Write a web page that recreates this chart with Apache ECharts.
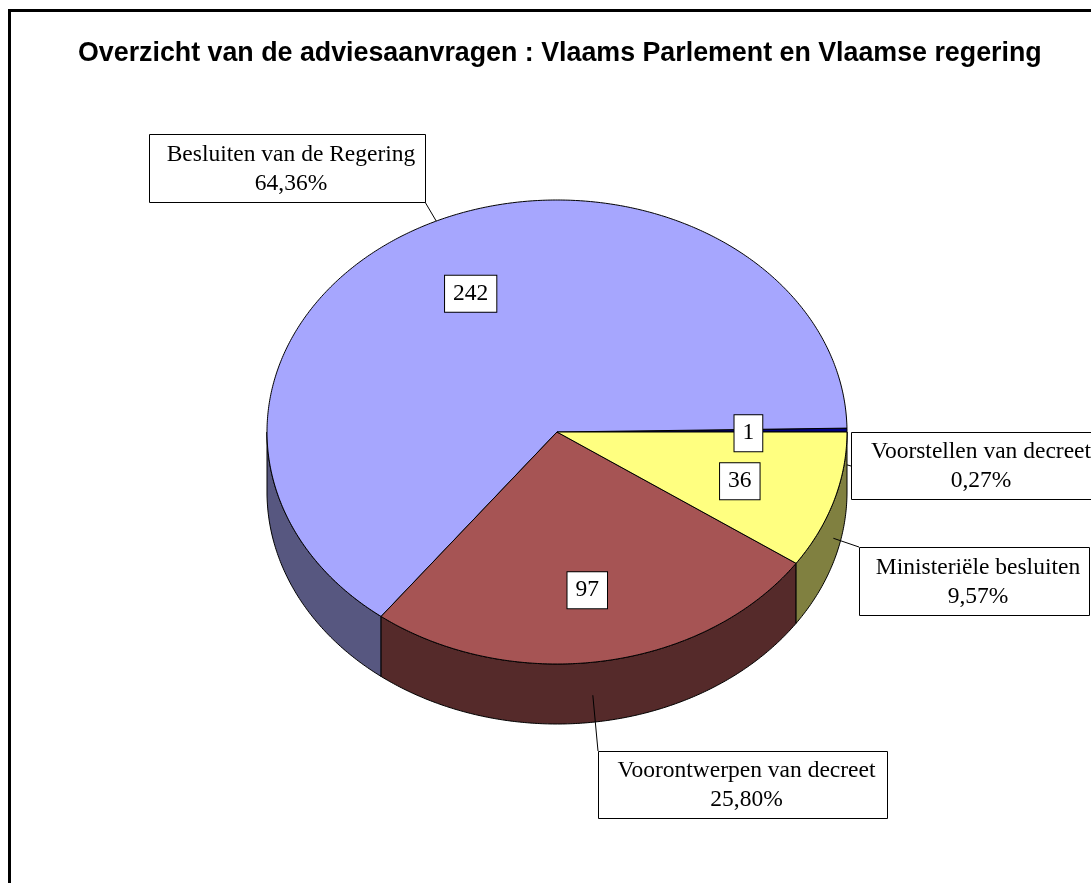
<!DOCTYPE html>
<html><head><meta charset="utf-8">
<script src="https://cdn.jsdelivr.net/npm/echarts/dist/echarts.min.js"></script>
<style>html,body{margin:0;padding:0;background:#fff}#c{width:1091px;height:883px}</style>
</head><body><div id="c"></div>
<script>
const titleText = 'Overzicht van de adviesaanvragen : Vlaams Parlement en Vlaamse regering';
const categories = ['Voorstellen van decreet', 'Besluiten van de Regering', 'Voorontwerpen van decreet', 'Ministeriële besluiten'];
const values = [1, 242, 97, 36];

const topColors = ['#000080', '#A6A6FE', '#A65454', '#FFFF80'];
const sideColors = ['#000040', '#575780', '#552A2A', '#808040'];
// outer label layout: box [left, top, width, height], leader end on the box, leader start offset
const outerLayout = [
  { box: [851, 432, 252, 67], end: [851, 466], sideFrac: 0.58, shift: 0 },
  { box: [149, 134, 276, 68], end: [425, 202], sideFrac: 0, shift: -2.2 },
  { box: [598, 751, 289, 67], end: [598, 751], sideFrac: 0.55, shift: -2 },
  { box: [859, 547, 230, 68], end: [859, 547], sideFrac: 0.6, shift: -0.4 }
];
const PIE = { cx: 557, cy: 432, rx: 290, ry: 232, depth: 60, labelFx: 0.66, labelFy: 0.68, labelDy: 2.5 };
const SERIF = '"Liberation Serif", "Times New Roman", serif';
const FONT_PX = 23.5;

const total = values.reduce((a, b) => a + b, 0);
const starts = [];
{ let acc = 0; for (const v of values) { starts.push(acc / total * Math.PI * 2); acc += v; } }

function pt(t, dy, fx, fy) {
  fx = fx == null ? 1 : fx; fy = fy == null ? fx : fy;
  return [PIE.cx + PIE.rx * fx * Math.cos(t), PIE.cy - PIE.ry * fy * Math.sin(t) + (dy || 0)];
}
function arc(a0, a1, dy) {
  const n = Math.max(2, Math.ceil(Math.abs(a1 - a0) / (Math.PI / 360)));
  const pts = [];
  for (let i = 0; i <= n; i++) pts.push(pt(a0 + (a1 - a0) * i / n, dy));
  return pts;
}
function pctText(v) { return (v / total * 100).toFixed(2).replace('.', ',') + '%'; }

function renderItem(params, api) {
  const i = params.dataIndex;
  const v = api.value(0);
  const a0 = starts[i];
  const a1 = a0 + v / total * Math.PI * 2;
  const mid = (a0 + a1) / 2;
  const children = [];
  // side face (front, lower half)
  const lo = Math.max(a0, Math.PI), hi = Math.min(a1, Math.PI * 2);
  if (hi > lo) {
    const pts = arc(lo, hi, 0).concat(arc(hi, lo, PIE.depth));
    children.push({ type: 'polygon', z2: 1, shape: { points: pts },
      style: { fill: sideColors[i], stroke: '#000', lineWidth: 1, lineJoin: 'round' } });
  }
  // top face
  const tpts = [[PIE.cx, PIE.cy]].concat(arc(a0, a1, 0));
  children.push({ type: 'polygon', z2: 10, shape: { points: tpts },
    style: { fill: topColors[i], stroke: '#000', lineWidth: 1, lineJoin: 'round' } });
  // value label
  const lp = pt(mid, PIE.labelDy, PIE.labelFx, PIE.labelFy);
  children.push({ type: 'text', z2: 30, style: {
    text: String(v), x: lp[0], y: lp[1], align: 'center', verticalAlign: 'middle',
    font: FONT_PX + 'px ' + SERIF, lineHeight: 25, fill: '#000', backgroundColor: '#fff', borderColor: '#000', borderWidth: 1,
    padding: [6, 8, 5, 8] } });
  // outer label + leader
  const L = outerLayout[i];
  const am = mid + L.shift * Math.PI / 180;
  const sp = pt(am, L.sideFrac * PIE.depth);
  children.push({ type: 'line', z2: 25, shape: { x1: sp[0], y1: sp[1], x2: L.end[0], y2: L.end[1] },
    style: { stroke: '#000', lineWidth: 1 } });
  const b = L.box;
  children.push({ type: 'rect', z2: 28, shape: { x: b[0] + 0.5, y: b[1] + 0.5, width: b[2], height: b[3] },
    style: { fill: '#fff', stroke: '#000', lineWidth: 1 } });
  children.push({ type: 'text', z2: 30, style: {
    text: categories[i] + '\n' + pctText(v), x: b[0] + b[2] / 2 + 4, y: b[1] + b[3] / 2 + 1, align: 'center', verticalAlign: 'middle',
    font: FONT_PX + 'px ' + SERIF, lineHeight: 29, fill: '#000' } });
  return { type: 'group', children: children };
}

const chart = echarts.init(document.getElementById('c'), null, { renderer: 'canvas' });
chart.setOption({
  animation: false,
  backgroundColor: '#fff',
  title: { text: titleText, left: 78, top: 40, padding: 0,
    textStyle: { fontFamily: '"Liberation Sans", Arial, sans-serif', fontWeight: 'bold', fontSize: 26.8, color: '#000' } },
  graphic: [
    { type: 'rect', shape: { x: 8, y: 9, width: 3, height: 900 }, style: { fill: '#000' } },
    { type: 'rect', shape: { x: 8, y: 9, width: 1100, height: 3 }, style: { fill: '#000' } }
  ],
  series: [{
    type: 'custom', coordinateSystem: 'none', renderItem: renderItem,
    data: values.map((v, i) => ({ name: categories[i], value: [v] }))
  }]
});
</script></body></html>
